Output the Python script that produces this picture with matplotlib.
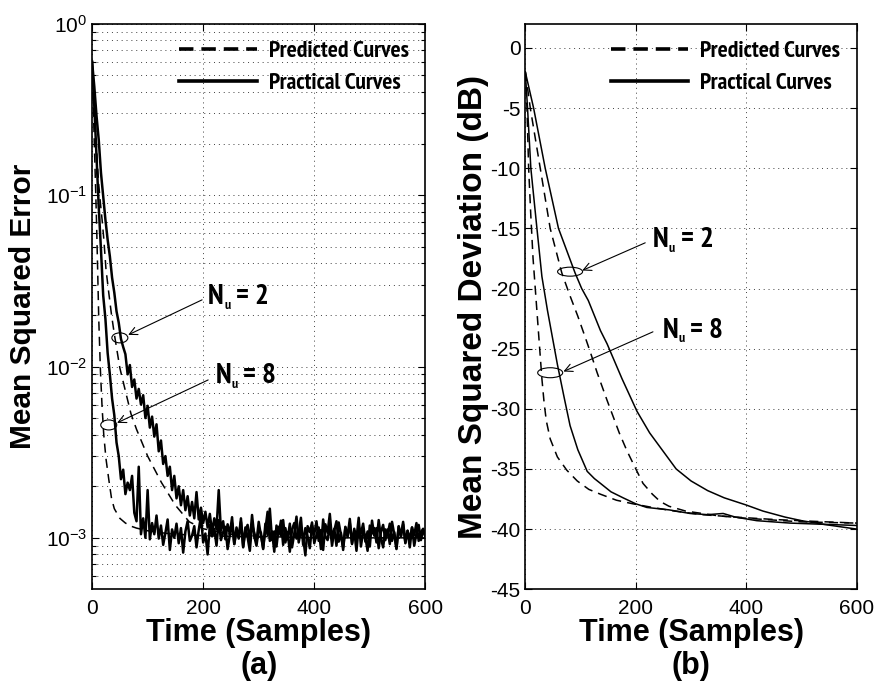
import numpy as np
import matplotlib
matplotlib.use("Agg")
import matplotlib.pyplot as plt
from matplotlib import font_manager
from matplotlib.font_manager import FontProperties
from matplotlib.lines import Line2D
from matplotlib.patches import Ellipse
from matplotlib.transforms import ScaledTranslation

# ---- (a) mean squared error, values in units of 1e-3 ----
t_mse = np.arange(0, 601, 4)

mse_prac_nu2 = [
    600, 430, 290, 210, 135, 98, 72, 55, 44, 33, 27, 21, 18, 14.5, 13, 11.8,
    9.0, 10.2, 7.6, 8.4, 6.5, 7.4, 6.0, 6.8, 5.0, 5.9, 4.4, 5.1, 3.9, 4.6,
    3.2, 3.7, 2.7, 3.0, 2.3, 2.6, 1.9, 2.3, 1.7, 2.0, 1.55, 1.9, 1.45, 1.75,
    1.35, 1.62, 1.30, 1.85, 1.28, 1.50, 1.22, 1.42, 1.15, 1.38, 1.08, 1.30,
    1.12, 1.90, 1.10, 1.25, 0.98, 1.20,
    1.05, 1.32, 0.92, 1.15, 1.01, 1.24, 0.88, 1.10, 1.19, 0.95, 1.36, 1.02, 0.90, 1.13, 1.07, 0.86, 1.21, 1.04, 1.48, 0.97,
    1.09, 0.89, 1.16, 1.03, 1.27, 0.94, 1.08, 0.83, 1.12, 1.22, 0.99, 1.06, 1.31, 0.91, 1.14, 1.02, 0.87, 1.18, 1.05, 1.25,
    0.96, 1.11, 0.85, 1.20, 1.07, 1.38, 0.98, 1.13, 0.90, 1.23, 1.04, 0.88, 1.15, 1.01, 1.29, 0.93, 1.10, 0.84, 1.17, 1.06,
    1.21, 0.95, 1.09, 0.89, 1.26, 1.03, 1.14, 0.87, 1.08, 1.19, 0.97, 1.12, 0.92, 1.24, 1.05, 0.86, 1.16, 1.02, 1.20, 0.94,
    1.10, 0.88, 1.15, 1.04, 1.22, 0.96, 1.08, 1.13, 1.01,
]

mse_prac_nu8 = [
    600, 330, 170, 85, 48, 26, 19, 12, 9.0, 6.5, 5.2, 3.6, 3.0, 2.2, 2.5, 1.8,
    2.1, 1.9, 2.3, 1.4, 1.25, 2.6, 1.05, 1.3, 1.0, 1.9, 0.98, 1.22, 1.05, 1.35,
    0.99, 1.18, 0.91, 1.07, 1.28, 0.85, 1.12, 1.00, 1.21, 0.93,
    1.14, 0.82, 1.09, 1.25, 0.96, 1.03, 1.17, 0.88, 1.11, 1.34,
    0.94, 1.06, 0.80, 1.19, 1.02, 1.13, 0.90, 1.27, 0.97, 1.08,
    1.16, 0.86, 1.04, 1.22, 0.92, 1.10, 0.99, 1.30, 0.89, 1.15,
    1.01, 0.84, 1.20, 1.07, 0.95, 1.24, 1.03, 0.87, 1.12, 1.42,
    0.96, 1.09, 0.83, 1.18, 1.05, 1.26, 0.91, 1.14, 0.98, 1.21,
    0.88, 1.06, 1.33, 0.94, 1.11, 1.00, 0.79, 1.17, 1.08, 1.23,
    0.93, 1.04, 1.15, 0.86, 1.28, 1.02, 0.97, 1.19, 0.90, 1.10,
    1.25, 0.95, 1.07, 0.85, 1.16, 1.03, 1.22, 0.92, 1.13, 0.99,
    1.31, 0.89, 1.09, 1.01, 0.84, 1.18, 1.06, 1.14, 0.94, 1.27,
    1.00, 0.88, 1.12, 1.04, 1.21, 0.96, 1.08, 0.87, 1.17, 1.02,
    1.24, 0.93, 1.10, 0.98, 1.15, 0.90, 1.06, 1.19, 0.97, 1.11,
    1.03,
]

t_pred_a = [0, 2, 4, 6, 8, 10, 12, 15, 18, 21, 25, 30, 35, 40, 50, 60, 70,
            80, 100, 125, 150, 175, 200, 250, 300, 400, 500, 600]
mse_pred_nu8 = [600, 350, 200, 120, 70, 37, 19, 9.5, 5.8, 4.0, 2.9, 2.2, 1.7,
                1.48, 1.30, 1.22, 1.17, 1.14, 1.10, 1.07, 1.05, 1.04, 1.03,
                1.02, 1.01, 1.00, 1.00, 1.00]
mse_pred_nu2 = [600, 450, 330, 250, 190, 145, 115, 90, 72, 56, 37, 27, 20,
                15.5, 9.8, 7.2, 5.3, 4.3, 3.0, 2.1, 1.55, 1.24, 1.13, 1.05,
                1.02, 1.00, 1.00, 1.00]

# ---- (b) mean squared deviation in dB ----
t_a = [0, 3, 6, 10, 14, 18, 22, 26, 30, 34, 38, 45, 58, 75, 94, 115, 136,
       165, 195, 230, 270, 320, 380, 450, 520, 600]
msd_pred_nu8 = [-2, -5, -10, -14, -17.5, -20, -22.5, -25, -27.5, -29.5, -31,
                -32.5, -34, -35.1, -36, -36.7, -37.1, -37.6, -37.9, -38.2,
                -38.5, -38.8, -39.0, -39.2, -39.35, -39.5]

t_b = [0, 4, 10, 21, 30, 40, 48, 58, 70, 81, 95, 112, 125, 136, 155, 177,
       200, 220, 260, 298, 330, 358, 380, 419, 479, 539, 600]
msd_prac_nu8 = [-2, -5, -10, -15, -19, -21.8, -23.8, -26.3, -29, -31.4, -33.4,
                -35.2, -35.8, -36.2, -36.9, -37.4, -37.9, -38.2, -38.4, -38.7,
                -38.8, -38.7, -39.0, -39.3, -39.5, -39.6, -40.0]

t_c = [0, 9, 27, 45, 66, 80, 95, 108, 117, 130, 148, 170, 184, 200, 213, 230,
       244, 260, 290, 350, 400, 450, 500, 600]
msd_pred_nu2 = [-2, -5, -10, -15, -18.7, -20.5, -22.3, -24, -25.2, -27, -29.3,
                -32, -33.5, -35, -36.2, -37.1, -37.7, -38.1, -38.5, -38.9,
                -39.1, -39.25, -39.4, -39.5]

t_d = [0, 15, 36, 60, 90, 102, 114, 136, 148, 175, 202, 225, 249, 273, 300,
       330, 360, 400, 430, 470, 500, 540, 600]
msd_prac_nu2 = [-2, -5, -10, -15, -18.7, -20, -21, -23.5, -24.6, -27.5, -30.2,
                -32, -33.5, -35, -36, -36.8, -37.4, -38.0, -38.5, -39.0, -39.3,
                -39.6, -39.7]


# condensed bold face for legend and N_u labels, if one is installed
def find_condensed():
    best = None
    for f in font_manager.fontManager.ttflist:
        w = f.weight if isinstance(f.weight, int) else (700 if "bold" in str(f.weight) else 400)
        if w != 700 or f.style != "normal" or f.stretch == "normal":
            continue
        fn = f.fname.lower()
        if "extracondensed" in fn or "ultracondensed" in fn:
            rank = 2
        elif "semicondensed" in fn:
            rank = 1
        else:
            rank = 0
        if "narrow" in f.name.lower():
            rank = -1
        if best is None or rank < best[0]:
            best = (rank, f.fname)
    return best[1] if best else None


cond_file = find_condensed()


def cond_font(size):
    if cond_file:
        return FontProperties(fname=cond_file, size=size)
    return FontProperties(family="Liberation Sans", weight="bold", size=size * 0.85)


plt.rcParams["font.family"] = ["Liberation Sans", "DejaVu Sans"]
plt.rcParams["axes.unicode_minus"] = False
plt.rcParams["mathtext.fontset"] = "custom"
plt.rcParams["mathtext.rm"] = "Liberation Sans"

fig = plt.figure(figsize=(8.77, 6.82), dpi=100)
ax1 = fig.add_axes([0.105, 0.136, 0.38, 0.829])
ax2 = fig.add_axes([0.599, 0.136, 0.378, 0.829])

dash = (0, (6, 4))
grid_kw = dict(color="0.25", linestyle=(0, (1, 4)), linewidth=0.7)


def ellipse(ax, x, y, w, h):
    e = Ellipse((0, 0), w / 100, h / 100, fill=False, lw=0.8, color="black",
                transform=fig.dpi_scale_trans + ScaledTranslation(x, y, ax.transData))
    ax.add_patch(e)


def label(ax, val, tip, tail, pos):
    ax.annotate("", xy=tip, xytext=tail,
                arrowprops=dict(arrowstyle="->", lw=0.8, color="black",
                                shrinkA=0, shrinkB=0, mutation_scale=14))
    kw = dict(xycoords="data", textcoords="offset points", va="center", ha="left")
    ax.annotate("N", pos, xytext=(0, 0), fontproperties=cond_font(21), **kw)
    ax.annotate("u", pos, xytext=(11.5, -6), fontproperties=cond_font(10), **kw)
    ax.annotate("= " + val, pos, xytext=(20, 0), fontproperties=cond_font(21), **kw)


# (a)
scale = 1e-3
ax1.plot(t_mse, np.array(mse_prac_nu2) * scale, color="black", lw=1.8)
ax1.plot(t_mse, np.array(mse_prac_nu8) * scale, color="black", lw=1.8)
ax1.plot(t_pred_a, np.array(mse_pred_nu8) * scale, color="black", lw=1.1, linestyle=dash)
ax1.plot(t_pred_a, np.array(mse_pred_nu2) * scale, color="black", lw=1.1, linestyle=dash)
ax1.set_yscale("log")
ax1.set_xlim(0, 600)
ax1.set_ylim(10 ** -3.3, 1)
ax1.set_xticks([0, 200, 400, 600])
ax1.grid(True, which="both", **grid_kw)
ax1.set_ylabel("Mean Squared Error", fontsize=21.5, fontweight="bold", labelpad=6)
ax1.set_xlabel("Time (Samples)\n(a)", fontsize=22, fontweight="bold",
               linespacing=1.12, labelpad=0)

ellipse(ax1, 50, 0.0147, 16, 10)
label(ax1, "2", (65, 0.0153), (198, 0.0245), (209, 0.0255))
ellipse(ax1, 30, 0.00456, 16, 10)
label(ax1, "8", (45, 0.00469), (209, 0.00835), (222, 0.0088))

# (b)
ax2.plot(t_a, msd_pred_nu8, color="black", lw=1.1, linestyle=dash)
ax2.plot(t_b, msd_prac_nu8, color="black", lw=1.1)
ax2.plot(t_c, msd_pred_nu2, color="black", lw=1.1, linestyle=dash)
ax2.plot(t_d, msd_prac_nu2, color="black", lw=1.1)
ax2.set_xlim(0, 600)
ax2.set_ylim(-45, 2)
ax2.set_xticks([0, 200, 400, 600])
ax2.set_yticks(np.arange(-45, 1, 5))
ax2.grid(True, which="major", **grid_kw)
ax2.set_ylabel("Mean Squared Deviation (dB)", fontsize=24, fontweight="bold", labelpad=1)
ax2.set_xlabel("Time (Samples)\n(b)", fontsize=22, fontweight="bold",
               linespacing=1.12, labelpad=0)

ellipse(ax2, 81, -18.6, 25, 9)
label(ax2, "2", (103, -18.5), (217, -16.2), (231, -16.0))
ellipse(ax2, 45, -27.0, 25, 10)
label(ax2, "8", (69, -26.9), (231, -23.6), (248, -23.5))

handles = [Line2D([], [], color="black", lw=2.6, linestyle=(0, (4, 2.2))),
           Line2D([], [], color="black", lw=2.6)]
for ax in (ax1, ax2):
    ax.tick_params(which="both", direction="in", top=True, right=True,
                   labelsize=15, length=5, width=0.8)
    ax.tick_params(axis="x", pad=7)
    ax.tick_params(which="minor", length=3)
    for sp in ax.spines.values():
        sp.set_linewidth(1.2)
    ax.legend(handles, ["Predicted Curves", "Practical Curves"], loc="upper right",
              frameon=False, prop=cond_font(17),
              handlelength=3.3, handletextpad=0.5, borderaxespad=0.3, labelspacing=0.45)

fig.savefig("out.png", dpi=100)
